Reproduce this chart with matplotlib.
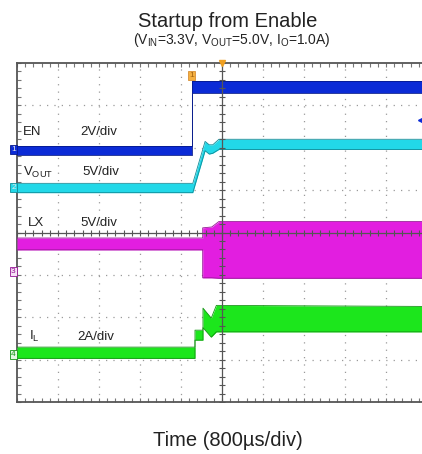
import numpy as np
import matplotlib
matplotlib.use("Agg")
import matplotlib.pyplot as plt
import matplotlib.transforms as mtransforms

plt.rcParams['font.family'] = ['Liberation Sans', 'DejaVu Sans']
plt.rcParams['mathtext.fontset'] = 'custom'
plt.rcParams['mathtext.rm'] = 'Liberation Sans'
plt.rcParams['mathtext.it'] = 'Liberation Sans:italic'

# time base: 800 us/div, trigger at centre (t = 0)
US_PER_DIV = 800

# CH1 EN (2 V/div)
en_t = [-4000, -595, -595, 4000]
en_hi = [0.20, 0.20, 3.25, 3.25]
en_lo = [-0.25, -0.25, 2.70, 2.70]

# CH2 VOUT (5 V/div)
vout_t = [-4000, -570, -330, -250, -180, -60, 4000]
vout_hi = [0.45, 0.45, 5.40, 5.00, 5.00, 5.65, 5.65]
vout_lo = [-0.65, -0.65, 4.30, 3.90, 4.00, 4.45, 4.45]

# CH3 LX (5 V/div)
lx_t = [-4000, -377, -377, -200, -60, 4000]
lx_hi = [4.00, 4.00, 5.20, 5.30, 5.95, 5.95]
lx_lo = [2.60, 2.60, -0.70, -0.70, -0.75, -0.75]

# CH4 IL (2 A/div)
il_t = [-4000, -527, -527, -371, -371, -210, -110, 4000]
il_hi = [0.33, 0.33, 1.13, 1.13, 2.17, 1.70, 2.30, 2.25]
il_lo = [-0.20, -0.20, 0.66, 0.66, 1.25, 0.80, 1.05, 1.05]

# channel setup: scale per div, ground offset in div, colours, marker number
CHANNELS = {
    'EN': dict(scale=2, offset=1.95, color='#0b2bd6', edge='#061a8c', num='1'),
    'VOUT': dict(scale=5, offset=1.07, color='#22d8e8', edge='#118c98', num='2'),
    'LX': dict(scale=5, offset=-0.93, color='#e21ee0', edge='#961596', num='3'),
    'IL': dict(scale=2, offset=-2.87, color='#1ce61c', edge='#129412', num='4'),
}

TRACES = {
    'EN': (en_t, en_hi, en_lo),
    'VOUT': (vout_t, vout_hi, vout_lo),
    'LX': (lx_t, lx_hi, lx_lo),
    'IL': (il_t, il_hi, il_lo),
}

fig = plt.figure(figsize=(4.22, 4.54), dpi=100)
W, H = 422, 454
ax = fig.add_axes([17 / W, 52 / H, 410 / W, 339 / H])
ax.set_xlim(-5 * US_PER_DIV, 5 * US_PER_DIV)
ax.set_ylim(-4, 4)

# graticule
grid_kw = dict(color='#9a9a9a', lw=0.9, linestyle=(0, (1.0, 4.9)), zorder=1)
for k in range(-4, 5):
    if k != 0:
        ax.axvline(k * US_PER_DIV, **grid_kw)
for k in range(-3, 4):
    if k != 0:
        ax.axhline(k, **grid_kw)

# traces
for name, (t, hi, lo) in TRACES.items():
    ch = CHANNELS[name]
    t = np.array(t, dtype=float)
    hi = ch['offset'] + np.array(hi) / ch['scale']
    lo = ch['offset'] + np.array(lo) / ch['scale']
    ax.fill_between(t, lo, hi, color=ch['color'], lw=0, zorder=3)
    ax.plot(t, hi, color=ch['edge'], lw=0.6, zorder=3.5)
    ax.plot(t, lo, color=ch['edge'], lw=0.6, zorder=3.5)

# centre crosshair with its small ticks
ax.axvline(0, color='#555555', lw=0.9, zorder=4)
ax.axhline(0, color='#555555', lw=0.9, zorder=4)
sub_y = np.arange(-4, 4.01, 0.2)
sub_x = np.arange(-4000, 4001, 160)
ax.plot(np.zeros_like(sub_y), sub_y, ls='none', marker='_', ms=4, mew=0.8,
        color='#555555', zorder=4)
ax.plot(sub_x, np.zeros_like(sub_x), ls='none', marker='|', ms=4, mew=0.8,
        color='#555555', zorder=4)

# frame
for s in ax.spines.values():
    s.set_color('#555555')
    s.set_linewidth(1.3)
ax.set_xticks(np.arange(-4000, 4001, 160))
ax.set_yticks(np.arange(-4, 4.01, 0.2))
ax.tick_params(direction='in', length=3, width=0.8, color='#777777',
               top=True, right=True, labelbottom=False, labelleft=False)

# channel labels
lab_kw = dict(fontsize=9.5, color='#222222', va='center', zorder=6)
ax.text(-3883, 2.37, 'EN', **lab_kw)
ax.text(-2771, 2.37, '2V/div', **lab_kw)
ax.text(-3883, 1.42, r'V$_{\mathrm{OUT}}$', **lab_kw)
ax.text(-2732, 1.42, '5V/div', **lab_kw)
ax.text(-3785, 0.22, 'LX', **lab_kw)
ax.text(-2771, 0.22, '5V/div', **lab_kw)
ax.text(-3766, -2.46, r'I$_{\mathrm{L}}$', **lab_kw)
ax.text(-2829, -2.46, '2A/div', **lab_kw)

# channel ground markers on the left edge
trans = mtransforms.blended_transform_factory(ax.transAxes, ax.transData)
for name, ch in CHANNELS.items():
    filled = name in ('EN', 'VOUT')
    face = ch['color'] if filled else ('#f6e2f6' if name == 'LX' else '#e2f8e2')
    ax.text(-0.003, ch['offset'], ch['num'], transform=trans, ha='right',
            va='center', fontsize=6, color=('#e8e8e8' if filled else ch['edge']),
            bbox=dict(boxstyle='square,pad=0.12', fc=face, ec=ch['edge'], lw=0.6),
            clip_on=False, zorder=7)

# trigger markers
ax.plot([0], [4], marker='v', ms=5, color='#f0a020', clip_on=False, zorder=7)
ax.text(-595, 3.71, '1', ha='center', va='center', fontsize=6, color='#a06010',
        bbox=dict(boxstyle='square,pad=0.12', fc='#f5b040', ec='#d08020', lw=0.5),
        zorder=7)
ax.plot([3880], [2.65], marker='<', ms=4, color='#0b2bd6', zorder=7)

# titles
XC = 228 / W
fig.text(XC, 1 - 27 / H, 'Startup from Enable', ha='center', va='baseline',
         fontsize=14.5, color='#222222')
fig.text(XC + 4 / W, 1 - 44 / H,
         r'(V$_{\mathrm{IN}}$=3.3V, V$_{\mathrm{OUT}}$=5.0V, I$_{\mathrm{O}}$=1.0A)',
         ha='center', va='baseline', fontsize=10, color='#222222')
fig.text(XC, 1 - 446 / H, 'Time (800\u00b5s/div)', ha='center', va='baseline',
         fontsize=14.5, color='#222222')

fig.savefig('out.png', dpi=100)
